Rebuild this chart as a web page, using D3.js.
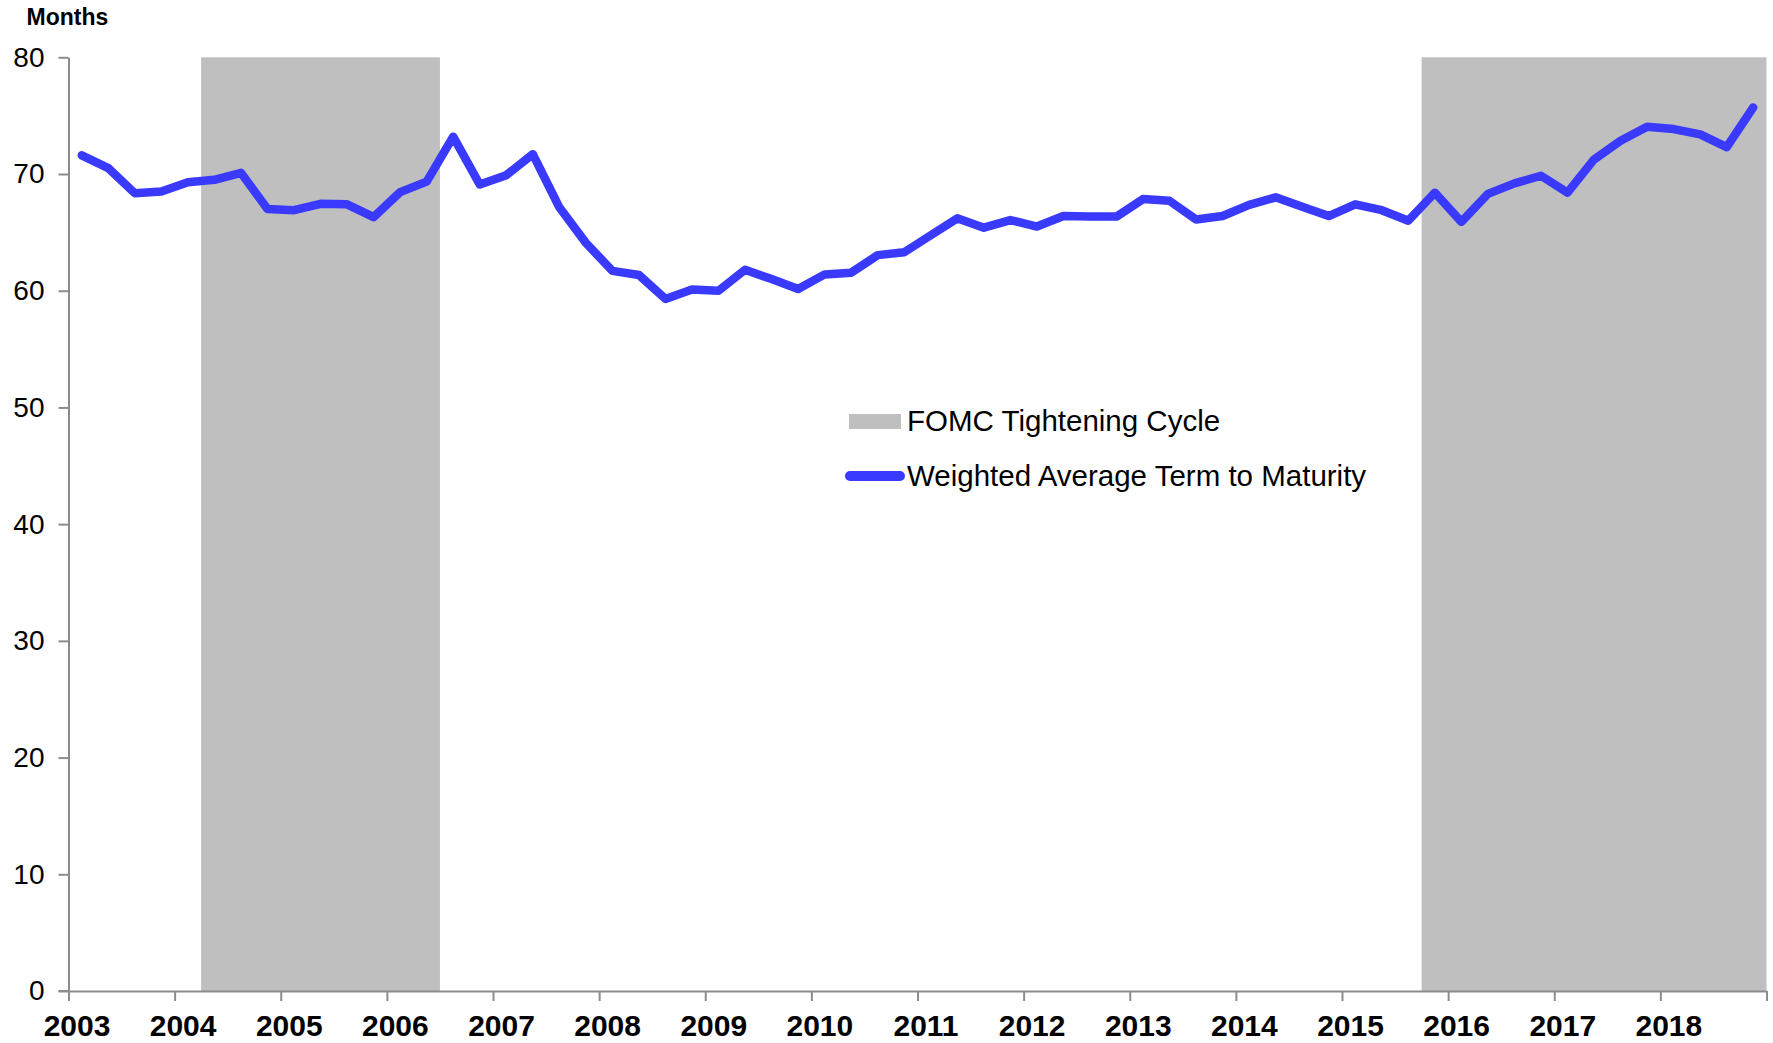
<!DOCTYPE html>
<html>
<head>
<meta charset="utf-8">
<script src="https://cdn.jsdelivr.net/npm/d3@7"></script>
<style>
  html, body { margin: 0; padding: 0; background: #ffffff; }
  svg { display: block; }
  text { font-family: Arial, "Liberation Sans", sans-serif; }
</style>
</head>
<body>
<svg id="chart" width="1773" height="1043"></svg>
<script>
// ---- Data ----
const startYear = 2003;
const yearLabels = ["2003","2004","2005","2006","2007","2008","2009","2010","2011","2012","2013","2014","2015","2016","2017","2018"];
const yTicks = [0, 10, 20, 30, 40, 50, 60, 70, 80];
// Quarterly weighted average term to maturity (months), 2003Q1 .. 2018Q4
const watm = [
  71.6, 70.5, 68.35, 68.5,
  69.3, 69.5, 70.1, 67.0,
  66.9, 67.45, 67.4, 66.3,
  68.45, 69.35, 73.2, 69.1,
  69.9, 71.7, 67.15, 64.1,
  61.7, 61.35, 59.3, 60.1,
  60.0, 61.8, 61.0, 60.15,
  61.4, 61.55, 63.05, 63.3,
  64.75, 66.2, 65.4, 66.05,
  65.5, 66.4, 66.35, 66.35,
  67.85, 67.7, 66.1, 66.4,
  67.35, 68.0, 67.2, 66.4,
  67.4, 66.9, 66.0, 68.4,
  65.9, 68.3, 69.2, 69.85,
  68.4, 71.25, 72.85, 74.05,
  73.85, 73.4, 72.3, 75.7
];
// FOMC tightening cycles (fractional years)
const cycleStart = [2004.25, 2015.75];
const cycleEnd   = [2006.5, 2019.0];
const seriesName = "Weighted Average Term to Maturity";
const shadeName = "FOMC Tightening Cycle";
const yTitle = "Months";

// ---- Layout ----
const svg = d3.select("#chart");
const x = d3.scaleLinear().domain([2003, 2019]).range([68.5, 1766.5]);
const y = d3.scaleLinear().domain([0, 80]).range([991, 57.3]);
const axisColor = "#8c8c8c";
const lineColor = "#3a3aff";
const shadeColor = "#bfbfbf";

// Shaded cycles
svg.append("g").selectAll("rect")
  .data(cycleStart.map((s, i) => ({ s, e: cycleEnd[i] })))
  .join("rect")
  .attr("x", d => x(d.s))
  .attr("width", d => x(d.e) - x(d.s))
  .attr("y", y(80))
  .attr("height", y(0) - y(80))
  .attr("fill", shadeColor);

// Y axis
const yAxis = d3.axisLeft(y).tickValues(yTicks).tickSize(10).tickPadding(14).tickSizeOuter(0);
const gy = svg.append("g").attr("transform", `translate(${x(2003)},0)`).call(yAxis);
gy.select(".domain").attr("stroke", axisColor).attr("stroke-width", 2);
gy.selectAll(".tick line").attr("stroke", axisColor).attr("stroke-width", 2);
gy.selectAll(".tick text")
  .attr("fill", "#000")
  .style("font-size", "28px")
  .style("font-family", "Arial, 'Liberation Sans', sans-serif");

// X axis
const xTickVals = d3.range(2003, 2020);
const xAxis = d3.axisBottom(x).tickValues(xTickVals).tickSize(10).tickSizeOuter(0).tickFormat(() => "");
const gx = svg.append("g").attr("transform", `translate(0,${y(0)})`).call(xAxis);
gx.select(".domain").attr("stroke", axisColor).attr("stroke-width", 2);
gx.selectAll(".tick line").attr("stroke", axisColor).attr("stroke-width", 2);
// extend the axis line a bit left to meet the y tick
svg.append("line")
  .attr("x1", x(2003) - 10).attr("x2", x(2003))
  .attr("y1", y(0)).attr("y2", y(0))
  .attr("stroke", axisColor).attr("stroke-width", 2);

// X labels (year labels slightly right of tick)
svg.append("g").selectAll("text")
  .data(yearLabels)
  .join("text")
  .attr("x", (d, i) => x(startYear + i) + 8.5)
  .attr("y", 1035.5)
  .attr("text-anchor", "middle")
  .style("font-size", "30px")
  .style("font-weight", "bold")
  .attr("fill", "#000")
  .text(d => d);

// Y title
svg.append("text")
  .attr("x", 26.5).attr("y", 25)
  .style("font-size", "23px")
  .style("font-weight", "bold")
  .attr("fill", "#000")
  .text(yTitle);

// Line
const line = d3.line()
  .x((d, i) => x(startYear + (i + 0.5) / 4))
  .y(d => y(d));
svg.append("path")
  .datum(watm)
  .attr("d", line)
  .attr("fill", "none")
  .attr("stroke", lineColor)
  .attr("stroke-width", 8.5)
  .attr("stroke-linejoin", "round")
  .attr("stroke-linecap", "round");

// Legend
const lg = svg.append("g");
lg.append("rect")
  .attr("x", 849).attr("y", 414).attr("width", 52).attr("height", 15)
  .attr("fill", shadeColor);
lg.append("text")
  .attr("x", 907).attr("y", 431)
  .style("font-size", "29.5px").attr("fill", "#000")
  .text(shadeName);
lg.append("line")
  .attr("x1", 850).attr("x2", 900).attr("y1", 476).attr("y2", 476)
  .attr("stroke", lineColor).attr("stroke-width", 10)
  .attr("stroke-linecap", "round");
lg.append("text")
  .attr("x", 907).attr("y", 485.5)
  .style("font-size", "29.5px").attr("fill", "#000")
  .text(seriesName);
</script>
</body>
</html>
